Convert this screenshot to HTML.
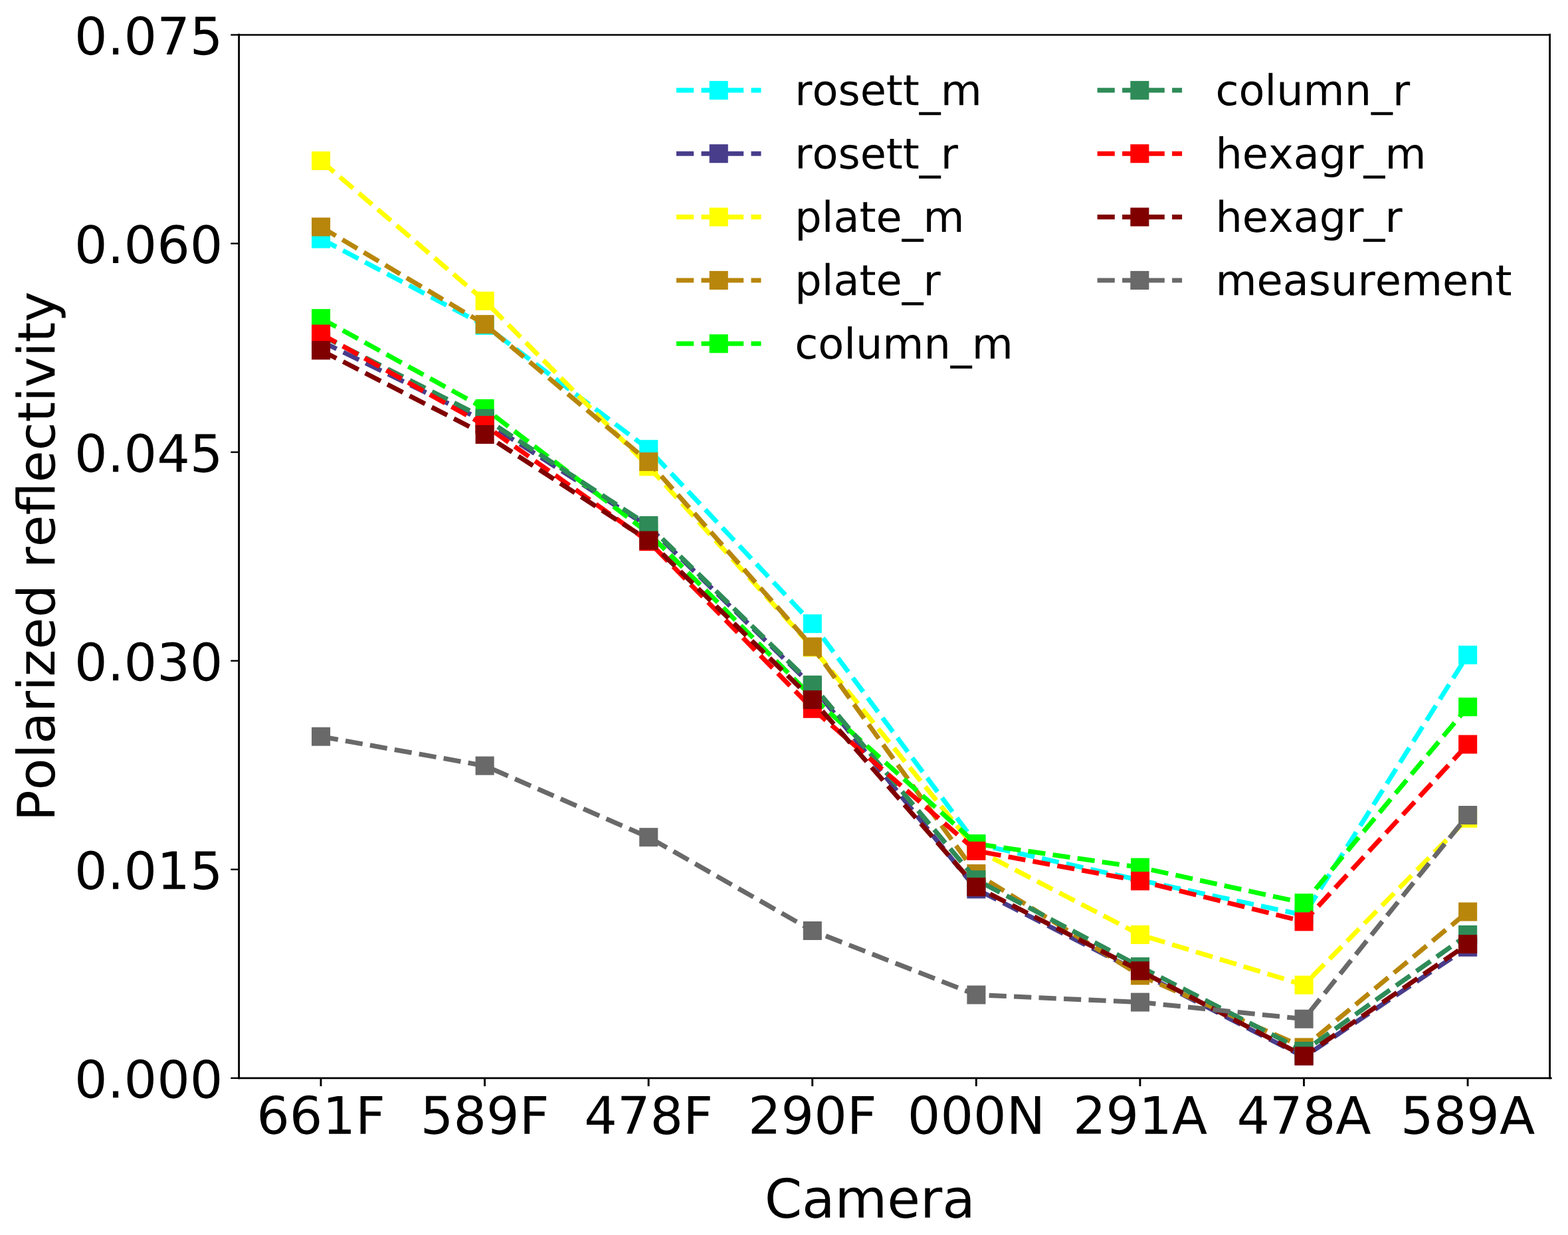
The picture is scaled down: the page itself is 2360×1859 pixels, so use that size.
<!DOCTYPE html>
<html lang="en">
<head>
<meta charset="utf-8">
<title>Polarized reflectivity by camera</title>
<style>
html,body{margin:0;padding:0;background:#fff;}
body{width:2360px;height:1859px;overflow:hidden;}
svg{display:block;}
text{font-family:"DejaVu Sans","Liberation Sans",sans-serif;fill:#000;font-kerning:none;text-rendering:geometricPrecision;}
.tick{font-size:78px;}
.xlab{font-size:80.84px;}
.ylab{font-size:77.94px;}
.leg{font-size:63.75px;}
.ln{fill:none;stroke-width:7.08;stroke-dasharray:26.2 11.3;stroke-linejoin:round;stroke-linecap:butt;}
.ax{stroke:#000;stroke-width:2.7;fill:none;}
.axh{stroke:#000;stroke-width:2.5;fill:none;}
.tkx{stroke:#000;stroke-width:2.9;fill:none;}
.tk{stroke:#000;stroke-width:2.4;fill:none;}
</style>
</head>
<body>
<svg width="2360" height="1859" viewBox="0 0 2360 1859">
<rect x="0" y="0" width="2360" height="1859" fill="#ffffff"/>
<g id="series">
<g id="s-rosett_m">
<polyline class="ln" stroke="#00ffff" points="483.05,359.5 729.64,489.9 976.23,676.25 1222.82,938.76 1469.41,1270.3 1716,1325 1962.59,1377.5 2209.18,985.9"/>
<rect x="469.03" y="345.48" width="28.05" height="28.05" fill="#00ffff"/>
<rect x="715.62" y="475.88" width="28.05" height="28.05" fill="#00ffff"/>
<rect x="962.21" y="662.23" width="28.05" height="28.05" fill="#00ffff"/>
<rect x="1208.79" y="924.74" width="28.05" height="28.05" fill="#00ffff"/>
<rect x="1455.38" y="1256.27" width="28.05" height="28.05" fill="#00ffff"/>
<rect x="1701.97" y="1310.97" width="28.05" height="28.05" fill="#00ffff"/>
<rect x="1948.56" y="1363.47" width="28.05" height="28.05" fill="#00ffff"/>
<rect x="2195.16" y="971.88" width="28.05" height="28.05" fill="#00ffff"/>
</g>
<g id="s-rosett_r">
<polyline class="ln" stroke="#483d8b" points="483.05,513.6 729.64,634.2 976.23,793 1222.82,1033 1469.41,1338.4 1716,1464 1962.59,1591 2209.18,1425.8"/>
<rect x="469.03" y="499.58" width="28.05" height="28.05" fill="#483d8b"/>
<rect x="715.62" y="620.18" width="28.05" height="28.05" fill="#483d8b"/>
<rect x="962.21" y="778.98" width="28.05" height="28.05" fill="#483d8b"/>
<rect x="1208.79" y="1018.98" width="28.05" height="28.05" fill="#483d8b"/>
<rect x="1455.38" y="1324.38" width="28.05" height="28.05" fill="#483d8b"/>
<rect x="1701.97" y="1449.97" width="28.05" height="28.05" fill="#483d8b"/>
<rect x="1948.56" y="1575.38" width="28.05" height="28.05" fill="#483d8b"/>
<rect x="2195.16" y="1411.77" width="28.05" height="28.05" fill="#483d8b"/>
</g>
<g id="s-plate_m">
<polyline class="ln" stroke="#ffff00" points="483.05,242 729.64,453 976.23,702.3 1222.82,974.5 1469.41,1279 1716,1407 1962.59,1482.7 2209.18,1231.8"/>
<rect x="469.03" y="227.97" width="28.05" height="28.05" fill="#ffff00"/>
<rect x="715.62" y="438.98" width="28.05" height="28.05" fill="#ffff00"/>
<rect x="962.21" y="688.27" width="28.05" height="28.05" fill="#ffff00"/>
<rect x="1208.79" y="960.48" width="28.05" height="28.05" fill="#ffff00"/>
<rect x="1455.38" y="1264.97" width="28.05" height="28.05" fill="#ffff00"/>
<rect x="1701.97" y="1392.97" width="28.05" height="28.05" fill="#ffff00"/>
<rect x="1948.56" y="1468.67" width="28.05" height="28.05" fill="#ffff00"/>
<rect x="2195.16" y="1217.77" width="28.05" height="28.05" fill="#ffff00"/>
</g>
<g id="s-plate_r">
<polyline class="ln" stroke="#b8860b" points="483.05,341.55 729.64,488.2 976.23,695 1222.82,973.5 1469.41,1315.1 1716,1468.4 1962.59,1576.5 2209.18,1372.45"/>
<rect x="469.03" y="327.53" width="28.05" height="28.05" fill="#b8860b"/>
<rect x="715.62" y="474.18" width="28.05" height="28.05" fill="#b8860b"/>
<rect x="962.21" y="680.98" width="28.05" height="28.05" fill="#b8860b"/>
<rect x="1208.79" y="959.48" width="28.05" height="28.05" fill="#b8860b"/>
<rect x="1455.38" y="1301.07" width="28.05" height="28.05" fill="#b8860b"/>
<rect x="1701.97" y="1454.38" width="28.05" height="28.05" fill="#b8860b"/>
<rect x="1948.56" y="1562.47" width="28.05" height="28.05" fill="#b8860b"/>
<rect x="2195.16" y="1358.42" width="28.05" height="28.05" fill="#b8860b"/>
</g>
<g id="s-column_m">
<polyline class="ln" stroke="#00ff00" points="483.05,479.2 729.64,615 976.23,802.5 1222.82,1049.6 1469.41,1270.1 1716,1305.7 1962.59,1359.2 2209.18,1064.1"/>
<rect x="469.03" y="465.18" width="28.05" height="28.05" fill="#00ff00"/>
<rect x="715.62" y="600.98" width="28.05" height="28.05" fill="#00ff00"/>
<rect x="962.21" y="788.48" width="28.05" height="28.05" fill="#00ff00"/>
<rect x="1208.79" y="1035.57" width="28.05" height="28.05" fill="#00ff00"/>
<rect x="1455.38" y="1256.07" width="28.05" height="28.05" fill="#00ff00"/>
<rect x="1701.97" y="1291.67" width="28.05" height="28.05" fill="#00ff00"/>
<rect x="1948.56" y="1345.17" width="28.05" height="28.05" fill="#00ff00"/>
<rect x="2195.16" y="1050.07" width="28.05" height="28.05" fill="#00ff00"/>
</g>
<g id="s-column_r">
<polyline class="ln" stroke="#2e8b57" points="483.05,504.4 729.64,629.8 976.23,791.05 1222.82,1030.9 1469.41,1324.2 1716,1455.1 1962.59,1582.1 2209.18,1407"/>
<rect x="469.03" y="490.38" width="28.05" height="28.05" fill="#2e8b57"/>
<rect x="715.62" y="615.77" width="28.05" height="28.05" fill="#2e8b57"/>
<rect x="962.21" y="777.02" width="28.05" height="28.05" fill="#2e8b57"/>
<rect x="1208.79" y="1016.88" width="28.05" height="28.05" fill="#2e8b57"/>
<rect x="1455.38" y="1310.17" width="28.05" height="28.05" fill="#2e8b57"/>
<rect x="1701.97" y="1441.07" width="28.05" height="28.05" fill="#2e8b57"/>
<rect x="1948.56" y="1568.07" width="28.05" height="28.05" fill="#2e8b57"/>
<rect x="2195.16" y="1392.97" width="28.05" height="28.05" fill="#2e8b57"/>
</g>
<g id="s-hexagr_m">
<polyline class="ln" stroke="#ff0000" points="483.05,502.7 729.64,640.1 976.23,815.15 1222.82,1066.77 1469.41,1280.8 1716,1326.2 1962.59,1387.3 2209.18,1120.45"/>
<rect x="469.03" y="488.68" width="28.05" height="28.05" fill="#ff0000"/>
<rect x="715.62" y="626.08" width="28.05" height="28.05" fill="#ff0000"/>
<rect x="962.21" y="801.12" width="28.05" height="28.05" fill="#ff0000"/>
<rect x="1208.79" y="1052.74" width="28.05" height="28.05" fill="#ff0000"/>
<rect x="1455.38" y="1266.77" width="28.05" height="28.05" fill="#ff0000"/>
<rect x="1701.97" y="1312.17" width="28.05" height="28.05" fill="#ff0000"/>
<rect x="1948.56" y="1373.27" width="28.05" height="28.05" fill="#ff0000"/>
<rect x="2195.16" y="1106.42" width="28.05" height="28.05" fill="#ff0000"/>
</g>
<g id="s-hexagr_r">
<polyline class="ln" stroke="#800000" points="483.05,527.3 729.64,654 976.23,813.5 1222.82,1053.26 1469.41,1335.1 1716,1461.3 1962.59,1589.6 2209.18,1421.15"/>
<rect x="469.03" y="513.27" width="28.05" height="28.05" fill="#800000"/>
<rect x="715.62" y="639.98" width="28.05" height="28.05" fill="#800000"/>
<rect x="962.21" y="799.48" width="28.05" height="28.05" fill="#800000"/>
<rect x="1208.79" y="1039.23" width="28.05" height="28.05" fill="#800000"/>
<rect x="1455.38" y="1321.07" width="28.05" height="28.05" fill="#800000"/>
<rect x="1701.97" y="1447.27" width="28.05" height="28.05" fill="#800000"/>
<rect x="1948.56" y="1575.57" width="28.05" height="28.05" fill="#800000"/>
<rect x="2195.16" y="1407.12" width="28.05" height="28.05" fill="#800000"/>
</g>
<g id="s-measurement">
<polyline class="ln" stroke="#696969" points="483.05,1108.7 729.64,1152.65 976.23,1260.24 1222.82,1400.97 1469.41,1497.5 1716,1508.6 1962.59,1533.8 2209.18,1227.05"/>
<rect x="469.03" y="1094.67" width="28.05" height="28.05" fill="#696969"/>
<rect x="715.62" y="1138.62" width="28.05" height="28.05" fill="#696969"/>
<rect x="962.21" y="1246.21" width="28.05" height="28.05" fill="#696969"/>
<rect x="1208.79" y="1386.94" width="28.05" height="28.05" fill="#696969"/>
<rect x="1455.38" y="1483.47" width="28.05" height="28.05" fill="#696969"/>
<rect x="1701.97" y="1494.57" width="28.05" height="28.05" fill="#696969"/>
<rect x="1948.56" y="1519.77" width="28.05" height="28.05" fill="#696969"/>
<rect x="2195.16" y="1213.02" width="28.05" height="28.05" fill="#696969"/>
</g>
</g>
<g id="axes">
<line class="tk" x1="347.3" y1="1622.83" x2="359.7" y2="1622.83"/>
<line class="tk" x1="347.3" y1="1308.76" x2="359.7" y2="1308.76"/>
<line class="tk" x1="347.3" y1="994.69" x2="359.7" y2="994.69"/>
<line class="tk" x1="347.3" y1="680.62" x2="359.7" y2="680.62"/>
<line class="tk" x1="347.3" y1="366.55" x2="359.7" y2="366.55"/>
<line class="tk" x1="347.3" y1="52.48" x2="359.7" y2="52.48"/>
<line class="tkx" x1="482.95" y1="1622.8" x2="482.95" y2="1635.1"/>
<line class="tkx" x1="729.54" y1="1622.8" x2="729.54" y2="1635.1"/>
<line class="tkx" x1="976.13" y1="1622.8" x2="976.13" y2="1635.1"/>
<line class="tkx" x1="1222.72" y1="1622.8" x2="1222.72" y2="1635.1"/>
<line class="tkx" x1="1469.31" y1="1622.8" x2="1469.31" y2="1635.1"/>
<line class="tkx" x1="1715.9" y1="1622.8" x2="1715.9" y2="1635.1"/>
<line class="tkx" x1="1962.49" y1="1622.8" x2="1962.49" y2="1635.1"/>
<line class="tkx" x1="2209.08" y1="1622.8" x2="2209.08" y2="1635.1"/>
<line x1="359.6" y1="50.8" x2="359.6" y2="1624.3" stroke="#000" stroke-width="2.8"/>
<line x1="2332.6" y1="50.8" x2="2332.6" y2="1624.3" stroke="#000" stroke-width="2.8"/>
<line x1="358.2" y1="1622.9" x2="2335.8" y2="1622.9" stroke="#000" stroke-width="2.85"/>
<line x1="358.2" y1="52.52" x2="2334" y2="52.52" stroke="#000" stroke-width="2.4"/>
<text class="tick" text-anchor="end" transform="translate(335.4 1652.43) skewY(0.03) scale(1 1.0)">0.000</text>
<text class="tick" text-anchor="end" transform="translate(335.4 1338.36) skewY(0.03) scale(1 1.0)">0.015</text>
<text class="tick" text-anchor="end" transform="translate(335.4 1024.29) skewY(0.03) scale(1 1.0)">0.030</text>
<text class="tick" text-anchor="end" transform="translate(335.4 710.22) skewY(0.03) scale(1 1.0)">0.045</text>
<text class="tick" text-anchor="end" transform="translate(335.4 396.15) skewY(0.03) scale(1 1.0)">0.060</text>
<text class="tick" text-anchor="end" transform="translate(335.4 82.08) skewY(0.03) scale(1 1.0)">0.075</text>
<text class="tick" text-anchor="middle" transform="translate(483.05 1706.63) skewY(0.03) scale(1 1.0)">661F</text>
<text class="tick" text-anchor="middle" transform="translate(729.64 1706.63) skewY(0.03) scale(1 1.0)">589F</text>
<text class="tick" text-anchor="middle" transform="translate(976.23 1706.63) skewY(0.03) scale(1 1.0)">478F</text>
<text class="tick" text-anchor="middle" transform="translate(1222.82 1706.63) skewY(0.03) scale(1 1.0)">290F</text>
<text class="tick" text-anchor="middle" transform="translate(1469.41 1706.63) skewY(0.03) scale(1 1.0)">000N</text>
<text class="tick" text-anchor="middle" transform="translate(1716 1706.63) skewY(0.03) scale(1 1.0)">291A</text>
<text class="tick" text-anchor="middle" transform="translate(1962.59 1706.63) skewY(0.03) scale(1 1.0)">478A</text>
<text class="tick" text-anchor="middle" transform="translate(2209.18 1706.63) skewY(0.03) scale(1 1.0)">589A</text>
<text class="xlab" text-anchor="middle" transform="translate(1309.25 1832.8) skewY(0.03) scale(1 1.0)">Camera</text>
<text class="ylab" text-anchor="middle" transform="translate(82.2 837.45) rotate(-90) skewY(0.03) scale(1 0.997)">Polarized reflectivity</text>
</g>
<g id="legend">
<line class="ln" stroke="#00ffff" x1="1018" y1="135.9" x2="1145.5" y2="135.9"/>
<rect x="1067.72" y="121.88" width="28.05" height="28.05" fill="#00ffff"/>
<text class="leg" transform="translate(1196.2 158.25) skewY(0.03) scale(1 1.0)">rosett_m</text>
<line class="ln" stroke="#483d8b" x1="1018" y1="231.25" x2="1145.5" y2="231.25"/>
<rect x="1067.72" y="217.22" width="28.05" height="28.05" fill="#483d8b"/>
<text class="leg" transform="translate(1196.2 253.6) skewY(0.03) scale(1 1.0)">rosett_r</text>
<line class="ln" stroke="#ffff00" x1="1018" y1="326.6" x2="1145.5" y2="326.6"/>
<rect x="1067.72" y="312.58" width="28.05" height="28.05" fill="#ffff00"/>
<text class="leg" transform="translate(1196.2 348.95) skewY(0.03) scale(1 1.0)">plate_m</text>
<line class="ln" stroke="#b8860b" x1="1018" y1="421.95" x2="1145.5" y2="421.95"/>
<rect x="1067.72" y="407.92" width="28.05" height="28.05" fill="#b8860b"/>
<text class="leg" transform="translate(1196.2 444.3) skewY(0.03) scale(1 1.0)">plate_r</text>
<line class="ln" stroke="#00ff00" x1="1018" y1="517.3" x2="1145.5" y2="517.3"/>
<rect x="1067.72" y="503.27" width="28.05" height="28.05" fill="#00ff00"/>
<text class="leg" transform="translate(1196.2 539.65) skewY(0.03) scale(1 1.0)">column_m</text>
<line class="ln" stroke="#2e8b57" x1="1651.6" y1="135.9" x2="1779.1" y2="135.9"/>
<rect x="1701.32" y="121.88" width="28.05" height="28.05" fill="#2e8b57"/>
<text class="leg" transform="translate(1829.45 158.25) skewY(0.03) scale(1 1.0)">column_r</text>
<line class="ln" stroke="#ff0000" x1="1651.6" y1="231.25" x2="1779.1" y2="231.25"/>
<rect x="1701.32" y="217.22" width="28.05" height="28.05" fill="#ff0000"/>
<text class="leg" transform="translate(1829.45 253.6) skewY(0.03) scale(1 1.0)">hexagr_m</text>
<line class="ln" stroke="#800000" x1="1651.6" y1="326.6" x2="1779.1" y2="326.6"/>
<rect x="1701.32" y="312.58" width="28.05" height="28.05" fill="#800000"/>
<text class="leg" transform="translate(1829.45 348.95) skewY(0.03) scale(1 1.0)">hexagr_r</text>
<line class="ln" stroke="#696969" x1="1651.6" y1="421.95" x2="1779.1" y2="421.95"/>
<rect x="1701.32" y="407.92" width="28.05" height="28.05" fill="#696969"/>
<text class="leg" transform="translate(1829.45 444.3) skewY(0.03) scale(1 1.0)">measurement</text>
</g>
</svg>
</body>
</html>
